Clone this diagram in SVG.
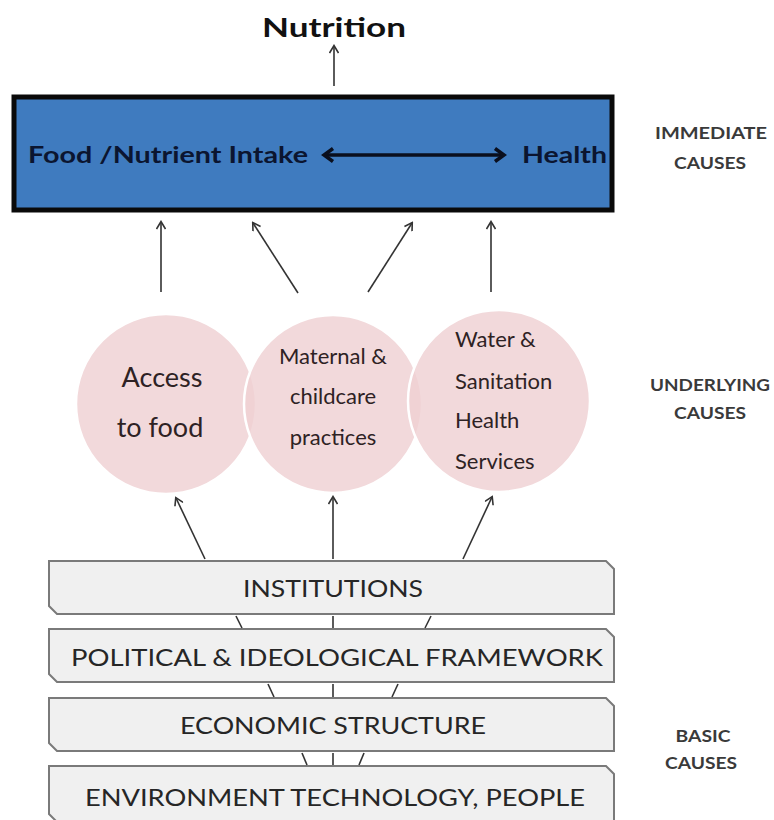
<svg xmlns="http://www.w3.org/2000/svg" width="774" height="820" viewBox="0 0 774 820">
<defs>
<marker id="ah" markerWidth="10" markerHeight="10" refX="8" refY="5" orient="auto" markerUnits="userSpaceOnUse">
<path d="M1,0.5 L8.5,5 L1,9.5" fill="none" stroke="#333" stroke-width="1.6"/>
</marker>
<marker id="ahb" markerWidth="16" markerHeight="16" refX="12" refY="8" orient="auto-start-reverse" markerUnits="userSpaceOnUse">
<path d="M3,1.5 L12,8 L3,14.5" fill="none" stroke="#0a0f1e" stroke-width="3.5"/>
</marker>
</defs>
<style>
text{font-family:Lato,"Open Sans","Liberation Sans",sans-serif}
.side{font-size:17px;font-weight:bold;fill:#3a3a3a;text-anchor:middle}
.circ{fill:#efcfd2;fill-opacity:0.8;stroke:#ffffff;stroke-width:2.5}
.ct{fill:#2e2224;font-size:22px}
.big{font-size:27px}
.bar{fill:#f0f0f0;stroke:#7a7a7a;stroke-width:2}
.bt{fill:#262626;font-size:24px;text-anchor:middle}
.c{stroke:#333;stroke-width:1.6;fill:none}
.a{stroke:#333;stroke-width:1.6;fill:none;marker-end:url(#ah)}
</style>
<rect width="774" height="820" fill="#ffffff"/>

<g id="nutrition">
<text x="334" y="37" font-size="26" font-weight="bold" fill="#111" text-anchor="middle" textLength="144" lengthAdjust="spacingAndGlyphs">Nutrition</text>
</g>

<g id="immediate">
<rect x="14" y="97" width="598" height="113" fill="#3f7bbf" stroke="#0a0a0a" stroke-width="5"/>
<text x="28" y="163" font-size="22" font-weight="bold" fill="#0b1530" textLength="280" lengthAdjust="spacingAndGlyphs">Food /Nutrient Intake</text>
<text x="522" y="163" font-size="22" font-weight="bold" fill="#0b1530" textLength="85" lengthAdjust="spacingAndGlyphs">Health</text>
<line x1="324" y1="155" x2="504" y2="155" stroke="#0a0f1e" stroke-width="3.5" marker-start="url(#ahb)" marker-end="url(#ahb)"/>
</g>

<g id="labels">
<text class="side" x="711" y="139" textLength="112" lengthAdjust="spacingAndGlyphs">IMMEDIATE</text>
<text class="side" x="710" y="169" textLength="72" lengthAdjust="spacingAndGlyphs">CAUSES</text>
<text class="side" x="710" y="391" textLength="120" lengthAdjust="spacingAndGlyphs">UNDERLYING</text>
<text class="side" x="710" y="419" textLength="72" lengthAdjust="spacingAndGlyphs">CAUSES</text>
<text class="side" x="703" y="742" textLength="55" lengthAdjust="spacingAndGlyphs">BASIC</text>
<text class="side" x="701" y="769" textLength="72" lengthAdjust="spacingAndGlyphs">CAUSES</text>
</g>

<g id="circle-access">
<circle class="circ" cx="166" cy="404" r="90"/>
</g>
<g id="circle-maternal">
<circle class="circ" cx="333" cy="404" r="89"/>
</g>
<g id="circle-water">
<circle class="circ" cx="499" cy="401" r="91"/>
</g>
<g id="circle-texts">
<text class="ct big" x="162" y="387" text-anchor="middle">Access</text>
<text class="ct big" x="160" y="437" text-anchor="middle">to food</text>
<text class="ct" x="333" y="364" text-anchor="middle">Maternal &amp;</text>
<text class="ct" x="333" y="404" text-anchor="middle">childcare</text>
<text class="ct" x="333" y="445" text-anchor="middle">practices</text>
<text class="ct" x="455" y="347">Water &amp;</text>
<text class="ct" x="455" y="389">Sanitation</text>
<text class="ct" x="455" y="428">Health</text>
<text class="ct" x="455" y="469">Services</text>
</g>

<g id="bar-institutions">
<path class="bar" d="M49,561 H606 L614,569 V614 H57 L49,606 Z"/>
<text class="bt" x="333" y="597" textLength="180" lengthAdjust="spacingAndGlyphs">INSTITUTIONS</text>
</g>
<g id="bar-political">
<path class="bar" d="M49,629 H606 L614,637 V682 H57 L49,674 Z"/>
<text class="bt" x="337" y="666" textLength="532" lengthAdjust="spacingAndGlyphs">POLITICAL &amp; IDEOLOGICAL FRAMEWORK</text>
</g>
<g id="bar-economic">
<path class="bar" d="M49,698 H606 L614,706 V751 H57 L49,743 Z"/>
<text class="bt" x="333" y="734" textLength="306" lengthAdjust="spacingAndGlyphs">ECONOMIC STRUCTURE</text>
</g>
<g id="bar-environment">
<path class="bar" d="M49,766 H606 L614,774 V822 H57 L49,814 Z"/>
<text class="bt" x="335" y="806" textLength="500" lengthAdjust="spacingAndGlyphs">ENVIRONMENT TECHNOLOGY, PEOPLE</text>
</g>

<g id="connectors">
<line class="a" x1="334" y1="86" x2="334" y2="46"/>
<line class="a" x1="161" y1="292" x2="161" y2="222"/>
<line class="a" x1="298" y1="293" x2="253" y2="223"/>
<line class="a" x1="368" y1="292" x2="412" y2="223"/>
<line class="a" x1="491" y1="292" x2="491" y2="222"/>
<line class="a" x1="205" y1="559" x2="176" y2="498"/>
<line class="a" x1="333" y1="559" x2="333" y2="497"/>
<line class="a" x1="463" y1="559" x2="492" y2="497"/>
<line class="c" x1="236" y1="616" x2="242" y2="628"/>
<line class="c" x1="333" y1="616" x2="333" y2="628"/>
<line class="c" x1="431" y1="616" x2="425" y2="628"/>
<line class="c" x1="268" y1="684" x2="274" y2="697"/>
<line class="c" x1="333" y1="684" x2="333" y2="697"/>
<line class="c" x1="398" y1="684" x2="392" y2="697"/>
<line class="c" x1="302" y1="753" x2="307" y2="765"/>
<line class="c" x1="333" y1="753" x2="333" y2="765"/>
<line class="c" x1="364" y1="753" x2="359" y2="765"/>
</g>
</svg>
